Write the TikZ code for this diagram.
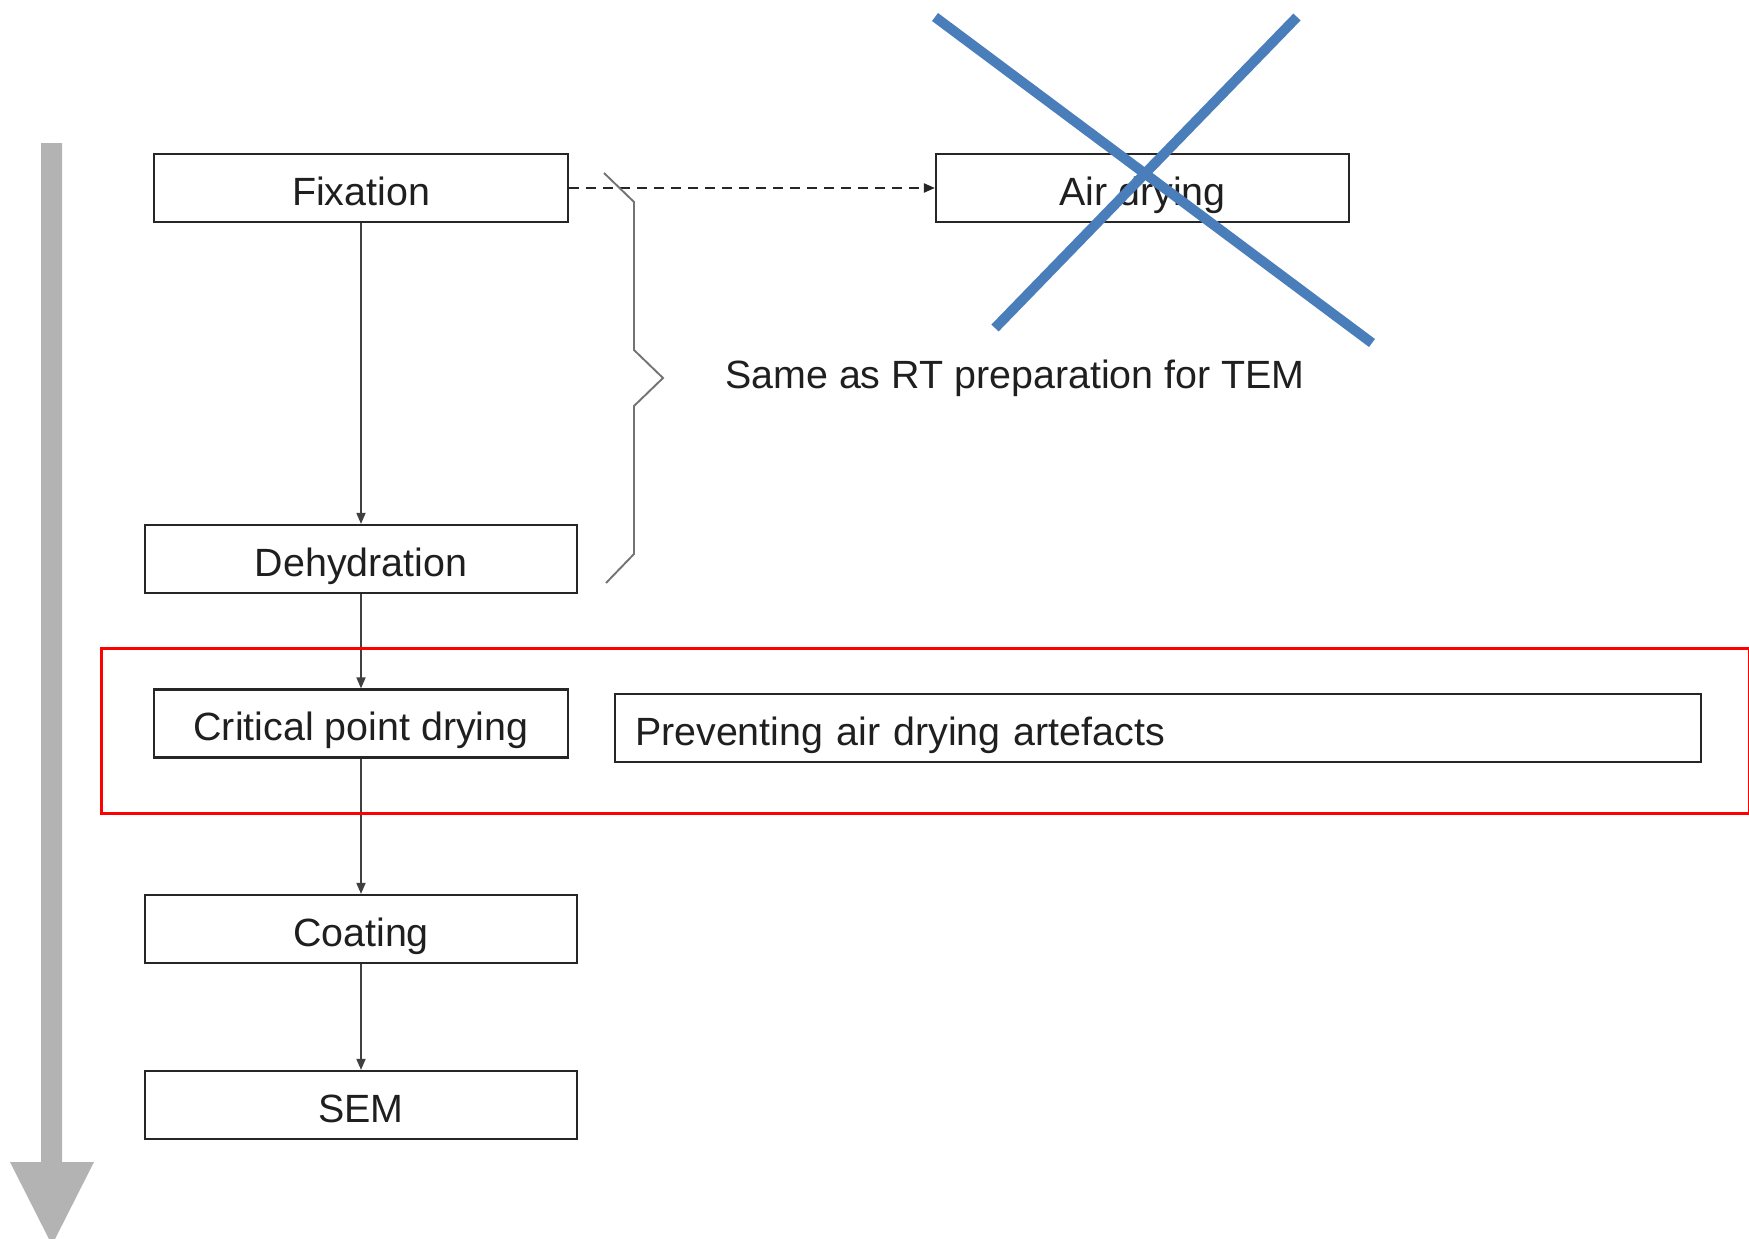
\documentclass[tikz,border=0pt]{standalone}
\usepackage{fontspec}
\setmainfont{Liberation Sans}
\usetikzlibrary{arrows.meta}
\definecolor{crossblue}{HTML}{4A7EBB}
\definecolor{flowgray}{HTML}{B3B3B3}
\tikzset{
  stepbox/.style={draw=black!85, line width=2.2pt, inner sep=0pt,
    minimum height=68pt, text height=34pt, text depth=0pt,
    font=\fontsize{39.4}{47}\selectfont, text=black!88},
  flow/.style={draw=black!75, line width=1.7pt,
    -{Triangle[length=11pt,width=9pt]}},
  dashflow/.style={draw=black!85, line width=2.2pt, dash pattern=on 10pt off 7pt,
    -{Triangle[length=11pt,width=9pt]}},
  bracket/.style={draw=black!55, line width=1.9pt},
  strike/.style={draw=crossblue, line width=10pt},
}
\begin{document}
\begin{tikzpicture}[x=1pt,y=-1pt]
\useasboundingbox (0,0) rectangle (1749,1239);
\clip (0,0) rectangle (1749,1239);

% process direction arrow
\fill[flowgray] (41,143) -- (62,143) -- (62,1162) -- (94,1162) -- (52,1245)
  -- (10,1162) -- (41,1162) -- cycle;

% process steps
\node[stepbox, minimum width=414pt] (fix) at (361,188) {Fixation};
\node[stepbox, minimum width=413pt] (air) at (1142.5,188) {Air drying};
\node[stepbox, minimum width=432pt] (dehyd) at (361,559) {Dehydration};
\node[stepbox, minimum width=414pt] (cpd) at (361,723.5) {Critical point drying};
\node[stepbox, minimum width=1086pt, text width=1046pt, align=left] (prev)
  at (1158,728) {Preventing air drying artefacts};
\node[stepbox, minimum width=432pt] (coat) at (361,929) {Coating};
\node[stepbox, minimum width=432pt] (sem) at (361,1105) {SEM};

% connectors
\draw[flow] (fix.south) -- (dehyd.north);
\draw[flow] (dehyd.south) -- (cpd.north);
\draw[flow] (cpd.south) -- (coat.north);
\draw[flow] (coat.south) -- (sem.north);
\draw[dashflow] (fix.east) -- (air.west);

% bracket grouping the first steps
\draw[bracket] (604,173) -- (634,202) -- (634,350) -- (663,378) -- (634,406)
  -- (634,554) -- (606,583);
\node[font=\fontsize{39.4}{47}\selectfont, text=black!88, anchor=base west, inner sep=0pt]
  (same) at (725,388) {Same as RT preparation for TEM};

% highlighted step
\draw[red, line width=3pt] (101,648) rectangle (1749,813);

% struck-out alternative
\draw[strike] (935,17) -- (1372,343);
\draw[strike] (1297,17) -- (995,328);
\end{tikzpicture}
\end{document}
